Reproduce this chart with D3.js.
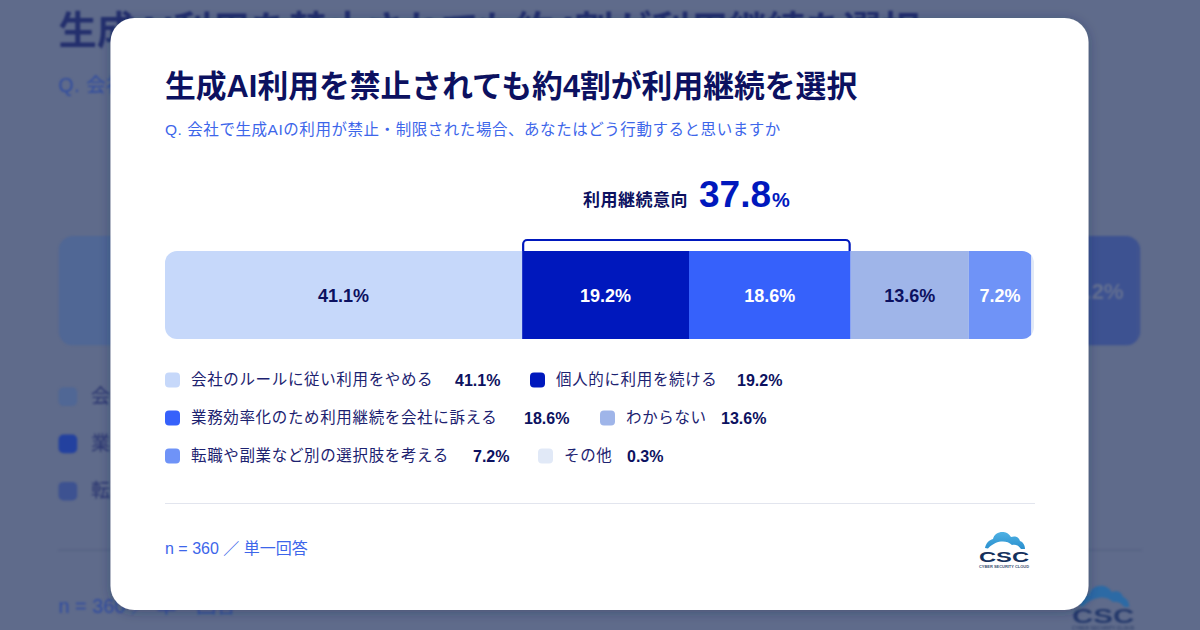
<!DOCTYPE html>
<html lang="ja">
<head>
<meta charset="utf-8">
<title>生成AI利用を禁止されても約4割が利用継続を選択</title>
<script src="https://cdn.jsdelivr.net/npm/d3@7"></script>
<style>
html, body { margin: 0; padding: 0; background: #fff; }
svg { display: block; }
text { font-family: "Liberation Sans", "Noto Sans CJK JP", sans-serif; }
</style>
</head>
<body>
<div id="chart"></div>
<script>
// chart values
var categories = ['会社のルールに従い利用をやめる', '個人的に利用を続ける', '業務効率化のため利用継続を会社に訴える', 'わからない', '転職や副業など別の選択肢を考える', 'その他'];
var barOrder = [0, 1, 2, 3, 4, 5];
var values = [41.1, 19.2, 18.6, 13.6, 7.2, 0.3];
var continueIdx = [1, 2];
var continueTotal = 37.8;
var titleText = '生成AI利用を禁止されても約4割が利用継続を選択';
var questionText = 'Q. 会社で生成AIの利用が禁止・制限された場合、あなたはどう行動すると思いますか';
var footerText = 'n = 360 ／ 単一回答';

// legend layout, same order as categories
var legendSwatchX = [165, 530, 165, 600, 165, 538];
var legendValueX = [455, 737, 524, 721, 473, 627];
var legendRowY = [380, 418, 456];
var legendRow = [0, 0, 1, 1, 2, 2];

// card colours
var cardTheme = {
    colors: ['#c6d8fa', '#0018bd', '#3661fb', '#9fb5e9', '#6f93f7', '#e1e9f7'],
    labels: ['#0c1160', '#ffffff', '#ffffff', '#0c1160', '#ffffff', 'none'],
    title: '#0c1160', question: '#3d66ea', legend: '#1c2270', accent: '#0018bd',
    rule: '#e2e5ee', cloud: 'url(#cloudGrad)', logo: '#14305c', logoSmall: '#3a4f72'
};
// same chart dimmed behind the card
var backTheme = {
    colors: ['#506795', '#15288f', '#23419f', '#4a6196', '#3d5291', '#3d5291'],
    labels: ['#1f2b66', '#646f91', '#646f91', '#1f2b66', '#647091', 'none'],
    title: '#232f6d', question: '#2f4ba0', legend: '#2a3570', accent: '#15288f',
    rule: '#566284', cloud: '#2c6aa5', logo: '#24396b', logoSmall: '#36476f'
};

var svg = d3.select('#chart').append('svg').attr('width', 1200).attr('height', 630);
var defs = svg.append('defs');

var shadow = defs.append('filter').attr('id', 'cardShadow')
    .attr('x', '-10%').attr('y', '-10%').attr('width', '120%').attr('height', '120%');
shadow.append('feDropShadow').attr('dx', 0).attr('dy', 2).attr('stdDeviation', 6)
    .attr('flood-color', '#1a2650').attr('flood-opacity', 0.35);

var cloudGrad = defs.append('linearGradient').attr('id', 'cloudGrad')
    .attr('x1', 0).attr('y1', 0).attr('x2', 0).attr('y2', 1);
cloudGrad.append('stop').attr('offset', '0%').attr('stop-color', '#4fb2e4');
cloudGrad.append('stop').attr('offset', '100%').attr('stop-color', '#2a8fce');

var x = d3.scaleLinear().domain([0, 100]).range([165, 1034]);
var ends = Array.from(d3.cumsum(values));
var starts = ends.map(function (d, i) { return d - values[i]; });

var drawChart = function (root, clipId, theme) {
    root.append('text')
        .attr('x', 165).attr('y', 97)
        .attr('font-size', 30.8).attr('font-weight', 700)
        .attr('fill', theme.title)
        .text(titleText);

    root.append('text')
        .attr('x', 165).attr('y', 135)
        .attr('font-size', 15.5).attr('letter-spacing', 0.55)
        .attr('fill', theme.question)
        .text(questionText);

    // callout above the bar
    root.append('text')
        .attr('x', 583).attr('y', 206)
        .attr('font-size', 17).attr('font-weight', 700).attr('letter-spacing', 0.5)
        .attr('fill', theme.title)
        .text('利用継続意向');
    root.append('text')
        .attr('x', 699).attr('y', 207)
        .attr('font-size', 37).attr('font-weight', 700)
        .attr('fill', theme.accent)
        .text(continueTotal.toFixed(1));
    root.append('text')
        .attr('x', 772).attr('y', 207)
        .attr('font-size', 20).attr('font-weight', 700)
        .attr('fill', theme.accent)
        .text('%');

    // stacked bar
    var clip = defs.append('clipPath').attr('id', clipId);
    clip.append('rect')
        .attr('x', x(0)).attr('y', 251)
        .attr('width', x(100) - x(0)).attr('height', 88)
        .attr('rx', 12);

    var bar = root.append('g').attr('clip-path', 'url(#' + clipId + ')');
    bar.selectAll('rect')
        .data(barOrder)
        .enter().append('rect')
        .attr('x', function (d) { return x(starts[d]); })
        .attr('y', 251)
        .attr('width', function (d) { return x(ends[d]) - x(starts[d]); })
        .attr('height', 88)
        .attr('fill', function (d) { return theme.colors[d]; });

    root.append('g').selectAll('text')
        .data(barOrder.filter(function (d) { return values[d] >= 1; }))
        .enter().append('text')
        .attr('x', function (d) { return (x(starts[d]) + x(ends[d])) / 2; })
        .attr('y', 302)
        .attr('text-anchor', 'middle')
        .attr('font-size', 18).attr('font-weight', 700)
        .attr('fill', function (d) { return theme.labels[d]; })
        .text(function (d) { return values[d].toFixed(1) + '%'; });

    // bracket over the two continuing segments
    var bl = x(starts[continueIdx[0]]) + 1;
    var br = x(ends[continueIdx[1]]) - 1;
    var bracket = d3.path();
    bracket.moveTo(bl, 251);
    bracket.lineTo(bl, 244);
    bracket.arcTo(bl, 240, bl + 4, 240, 4);
    bracket.lineTo(br - 4, 240);
    bracket.arcTo(br, 240, br, 244, 4);
    bracket.lineTo(br, 251);
    root.append('path')
        .attr('d', bracket.toString())
        .attr('fill', 'none')
        .attr('stroke', theme.accent)
        .attr('stroke-width', 2.2);

    // legend
    var items = root.append('g').selectAll('g')
        .data(d3.range(categories.length))
        .enter().append('g');
    items.append('rect')
        .attr('x', function (d) { return legendSwatchX[d]; })
        .attr('y', function (d) { return legendRowY[legendRow[d]] - 7.5; })
        .attr('width', 15).attr('height', 15).attr('rx', 4)
        .attr('fill', function (d) { return theme.colors[d]; });
    items.append('text')
        .attr('x', function (d) { return legendSwatchX[d] + 26; })
        .attr('y', function (d) { return legendRowY[legendRow[d]] + 5; })
        .attr('font-size', 15.5).attr('letter-spacing', 0.65)
        .attr('fill', theme.legend)
        .text(function (d) { return categories[d]; });
    items.append('text')
        .attr('x', function (d) { return legendValueX[d]; })
        .attr('y', function (d) { return legendRowY[legendRow[d]] + 5.5; })
        .attr('font-size', 16).attr('font-weight', 700)
        .attr('fill', theme.title)
        .text(function (d) { return values[d].toFixed(1) + '%'; });

    root.append('line')
        .attr('x1', 165).attr('x2', 1035)
        .attr('y1', 503.5).attr('y2', 503.5)
        .attr('stroke', theme.rule).attr('stroke-width', 1.2);

    root.append('text')
        .attr('x', 165).attr('y', 554)
        .attr('font-size', 16)
        .attr('fill', theme.question)
        .text(footerText);

    // CSC logo
    var logo = root.append('g');
    logo.append('path')
        .attr('d', 'M985 548 C986 543 989 540 993 539 C994 534 999 531.5 1003.5 532 C1007 532.5 1009 534 1011 537 C1015 535.5 1019 537 1020 541 C1023 542 1025 545 1025 549 L1021 549 C1019 546 1016 544 1012 545 C1009 542 1005 541 1001 541.5 C996 542 991 545 988 548.5 Z')
        .attr('fill', theme.cloud);
    logo.append('text')
        .attr('x', 979).attr('y', 562)
        .attr('font-size', 15.5).attr('font-weight', 700)
        .attr('textLength', 50).attr('lengthAdjust', 'spacingAndGlyphs')
        .attr('fill', theme.logo)
        .text('CSC');
    logo.append('text')
        .attr('x', 979).attr('y', 567.5)
        .attr('font-size', 4.4).attr('font-weight', 700)
        .attr('textLength', 50).attr('lengthAdjust', 'spacingAndGlyphs')
        .attr('fill', theme.logoSmall)
        .text('CYBER SECURITY CLOUD');
};

svg.append('rect').attr('width', 1200).attr('height', 630).attr('fill', '#5f6b8b');

// enlarged, dimmed copy behind the card
var bgLayer = svg.append('g').style('filter', 'blur(0.8px)')
    .attr('transform', 'translate(-146.9,-76.5) scale(1.245)');
drawChart(bgLayer, 'barClipBg', backTheme);

svg.append('rect')
    .attr('x', 110.5).attr('y', 18)
    .attr('width', 978).attr('height', 592)
    .attr('rx', 24)
    .attr('fill', '#ffffff')
    .attr('filter', 'url(#cardShadow)');

drawChart(svg.append('g'), 'barClip', cardTheme);
</script>
</body>
</html>
